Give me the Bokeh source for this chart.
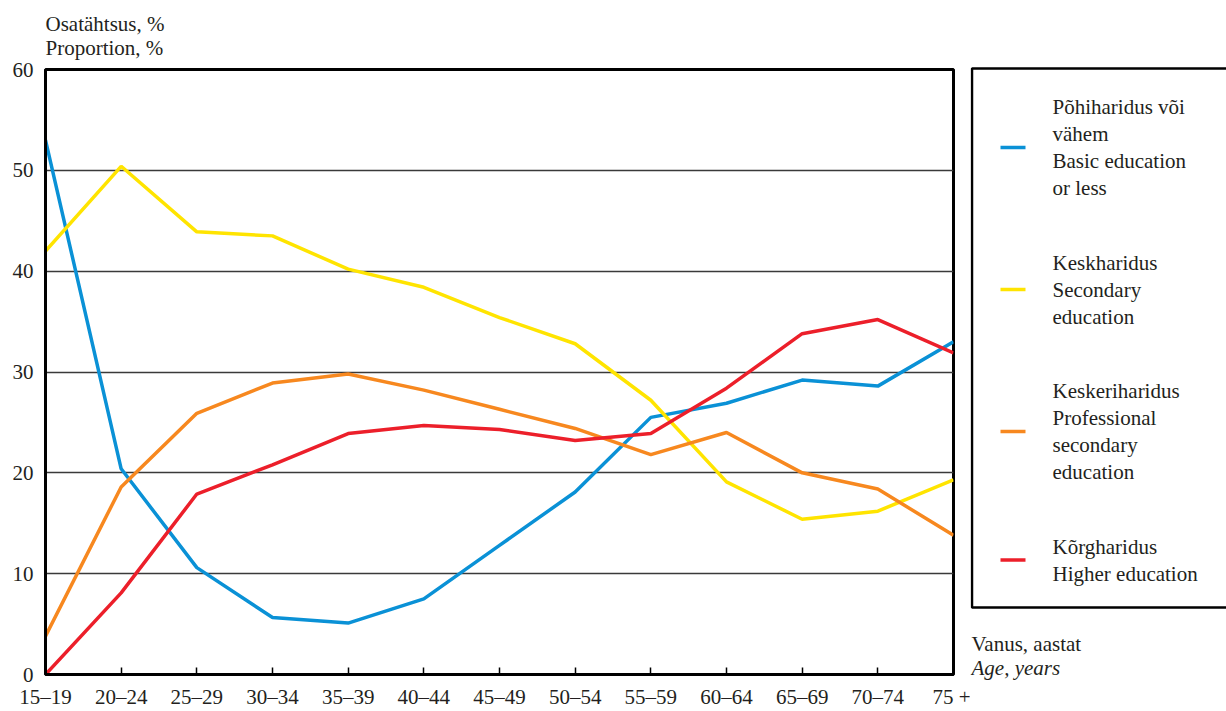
from bokeh.plotting import figure
from bokeh.models import FixedTicker, Range1d, Title
from bokeh.core.properties import value
from bokeh.layouts import row, column
from bokeh.embed import file_html
from bokeh.resources import INLINE

age_groups = ["15–19", "20–24", "25–29", "30–34", "35–39", "40–44", "45–49",
              "50–54", "55–59", "60–64", "65–69", "70–74", "75 +"]
basic = [53.0, 20.4, 10.6, 5.65, 5.1, 7.5, 12.8, 18.1, 25.5, 26.9, 29.2, 28.6, 33.0]
secondary = [42.0, 50.4, 43.9, 43.5, 40.2, 38.4, 35.4, 32.8, 27.2, 19.1, 15.4, 16.2, 19.3]
professional = [3.8, 18.6, 25.9, 28.9, 29.8, 28.2, 26.3, 24.4, 21.8, 24.0, 20.0, 18.4, 13.8]
higher = [0.0, 8.1, 17.9, 20.8, 23.9, 24.7, 24.3, 23.2, 23.9, 28.4, 33.8, 35.2, 31.9]
y_ticks = [0, 10, 20, 30, 40, 50, 60]

series_labels = [
    ["Põhiharidus või", "vähem", "Basic education", "or less"],
    ["Keskharidus", "Secondary", "education"],
    ["Keskeriharidus", "Professional", "secondary", "education"],
    ["Kõrgharidus", "Higher education"],
]
colors = ["#0a91d6", "#ffe400", "#f7881f", "#ec1f2a"]
series = [basic, secondary, professional, higher]

FONT = "Liberation Serif"
FS = "21px"
TXT = "#231f20"
x_idx = list(range(len(age_groups)))

# ---------------- main chart ----------------
p = figure(width=970, height=711, output_backend="svg", toolbar_location=None,
           x_range=Range1d(0, len(age_groups) - 1), y_range=Range1d(0, 60),
           min_border_left=45, min_border_right=17, min_border_top=69,
           min_border_bottom=37)
p.outline_line_color = "black"
p.outline_line_width = 3
p.outline_line_alpha = 1
p.background_fill_color = "white"
p.border_fill_color = "white"

p.xaxis.ticker = FixedTicker(ticks=x_idx)
p.xaxis.major_label_overrides = {i: g for i, g in enumerate(age_groups)}
p.xaxis.axis_line_width = 3
p.xaxis.axis_line_color = "black"
p.xaxis.major_tick_in = 7
p.xaxis.major_tick_out = 0
p.xaxis.major_tick_line_width = 1.5
p.xaxis.major_tick_line_color = "black"
p.xaxis.minor_tick_line_color = None
p.xaxis.major_label_standoff = 10
p.xaxis.major_label_text_font = FONT
p.xaxis.major_label_text_font_size = FS
p.xaxis.major_label_text_color = TXT

p.yaxis.ticker = FixedTicker(ticks=y_ticks)
p.yaxis.axis_line_width = 3
p.yaxis.axis_line_color = "black"
p.yaxis.major_tick_line_color = None
p.yaxis.minor_tick_line_color = None
p.yaxis.major_tick_in = 0
p.yaxis.major_tick_out = 0
p.yaxis.major_label_standoff = 12
p.yaxis.major_label_text_font = FONT
p.yaxis.major_label_text_font_size = FS
p.yaxis.major_label_text_color = TXT

p.xgrid.visible = False
p.ygrid.grid_line_color = "#3a3a3a"
p.ygrid.grid_line_width = 1.4

for vals, c in zip(series, colors):
    p.line(x_idx, vals, line_color=c, line_width=3.5)

p.add_layout(Title(text="Osatähtsus, %\nProportion, %", align="left",
                   text_font=FONT, text_font_size=FS, text_font_style="normal",
                   text_color=TXT, standoff=19, offset=0),
             "above")

# ---------------- legend panel (page-pixel coordinates) ----------------
PANEL_LEFT, PANEL_RIGHT, PAGE_H = 970, 1226, 711
q = figure(width=PANEL_RIGHT - PANEL_LEFT, height=PAGE_H, output_backend="svg",
           toolbar_location=None,
           x_range=Range1d(PANEL_LEFT, PANEL_RIGHT), y_range=Range1d(PAGE_H, 0),
           x_axis_location=None, y_axis_location=None,
           min_border_left=0, min_border_right=0, min_border_top=0,
           min_border_bottom=0)
q.outline_line_color = None
q.grid.visible = False
q.background_fill_color = "white"
q.border_fill_color = "white"

BOX_TOP, BOX_BOTTOM = 68, 607
PAD, GAP, LINE_H = 25, 47.5, 27
q.quad(left=[PANEL_LEFT + 1.5], right=[PANEL_RIGHT + 20], top=[BOX_TOP],
       bottom=[BOX_BOTTOM], fill_color=None, line_color="black", line_width=2.5)

tx, ty, tt = [], [], []
gx0, gx1, gy, gc = [], [], [], []
cursor = BOX_TOP + PAD
for lines, c in zip(series_labels, colors):
    h = len(lines) * LINE_H
    center = cursor + h / 2
    for k, t in enumerate(lines):
        tx.append(1052)
        ty.append(cursor + (k + 0.5) * LINE_H)
        tt.append(t)
    gx0.append(1000)
    gx1.append(1025)
    gy.append(center)
    gc.append(c)
    cursor += h + GAP

q.segment(x0=gx0, y0=gy, x1=gx1, y1=gy, line_color=gc, line_width=3.5)
q.text(x=tx, y=ty, text=tt, text_font=value(FONT), text_font_size=value(FS),
       text_color=TXT, text_baseline="middle", text_align="left")

q.text(x=[PANEL_LEFT + 1], y=[643], text=["Vanus, aastat"], text_font=value(FONT),
       text_font_size=value(FS), text_color=TXT, text_baseline="middle")
q.text(x=[PANEL_LEFT + 1], y=[667], text=["Age, years"], text_font=value(FONT),
       text_font_size=value(FS), text_font_style="italic", text_color=TXT,
       text_baseline="middle")

layout = row(p, column(q), spacing=0)
open("out.html", "w").write(file_html(layout, INLINE))
